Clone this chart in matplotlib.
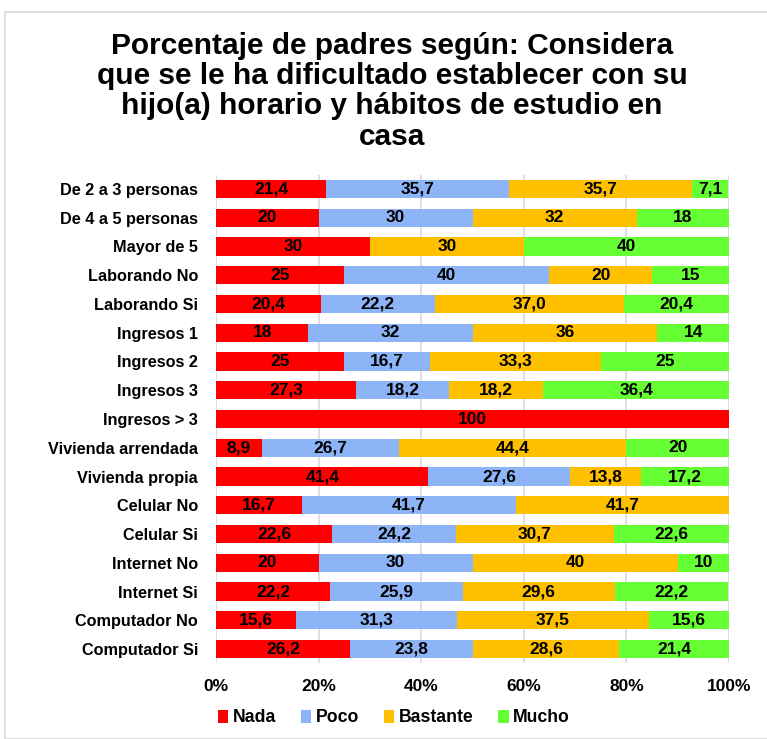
import matplotlib
matplotlib.use("Agg")
import matplotlib.pyplot as plt
from matplotlib.patches import Rectangle
import numpy as np

plt.rcParams['font.family'] = ['Liberation Sans', 'DejaVu Sans']

categories = ["De 2 a 3 personas", "De 4 a 5 personas", "Mayor de 5", "Laborando No",
              "Laborando Si", "Ingresos 1", "Ingresos 2", "Ingresos 3", "Ingresos > 3",
              "Vivienda arrendada", "Vivienda propia", "Celular No", "Celular Si",
              "Internet No", "Internet Si", "Computador No", "Computador Si"]
series_names = ["Nada", "Poco", "Bastante", "Mucho"]
nada = [21.4, 20, 30, 25, 20.4, 18, 25, 27.3, 100, 8.9, 41.4, 16.7, 22.6, 20, 22.2, 15.6, 26.2]
poco = [35.7, 30, 0, 40, 22.2, 32, 16.7, 18.2, 0, 26.7, 27.6, 41.7, 24.2, 30, 25.9, 31.3, 23.8]
bastante = [35.7, 32, 30, 20, 37.0, 36, 33.3, 18.2, 0, 44.4, 13.8, 41.7, 30.7, 40, 29.6, 37.5, 28.6]
mucho = [7.1, 18, 40, 15, 20.4, 14, 25, 36.4, 0, 20, 17.2, 0, 22.6, 10, 22.2, 15.6, 21.4]
# number of decimals shown in the data labels, per row
decimals = [1, 0, 0, 0, 1, 0, 1, 1, 0, 1, 1, 1, 1, 0, 1, 1, 1]
xticks = [0, 20, 40, 60, 80, 100]
title = "Porcentaje de padres según: Considera\nque se le ha dificultado establecer con su\nhijo(a) horario y hábitos de estudio en\ncasa"

colors = ["#FF0000", "#8EB4F8", "#FFC000", "#66FF33"]

fig = plt.figure(figsize=(7.67, 7.39), dpi=100)
fig.patches.append(Rectangle((5/767, 0), 1, 1 - 12/739, transform=fig.transFigure,
                             fill=False, edgecolor="#D9D9D9", linewidth=1.2))
ax = fig.add_axes([216/767, 1 - 663.4/739, (729 - 216)/767, (663.4 - 174.6)/739])

data = np.array([nada, poco, bastante, mucho])
y = np.arange(len(categories))
left = np.zeros(len(categories))
for i, name in enumerate(series_names):
    vals = data[i]
    ax.barh(y, vals, left=left, height=0.63, color=colors[i], label=name, zorder=2)
    for j, v in enumerate(vals):
        if v > 0:
            txt = f"{v:.{decimals[j]}f}".replace(".", ",")
            if decimals[j] == 1 and float(v).is_integer() and v != 37.0:
                txt = f"{int(v)}"
            ax.text(left[j] + v / 2, y[j], txt, ha="center", va="center",
                    fontsize=12.5, fontweight="bold", color="black", zorder=3)
    left += vals

ax.set_xlim(0, 100)
ax.set_ylim(len(categories) - 0.5, -0.5)
ax.set_yticks(y)
ax.set_yticklabels(categories, fontsize=11.7, fontweight="bold")
ax.set_xticks(xticks)
ax.set_xticklabels([f"{t}%" for t in xticks], fontsize=12.5, fontweight="bold")
ax.tick_params(axis="both", length=0)
ax.tick_params(axis="y", pad=13)
ax.tick_params(axis="x", pad=11)
for s in ax.spines.values():
    s.set_visible(False)
ax.grid(axis="x", color="#D9D9D9", linewidth=1.2, zorder=0)
ax.set_axisbelow(True)

fig.text(392/767, 1 - 32/739, title, ha="center", va="top", fontsize=21.5,
         fontweight="bold", linespacing=1.1)

leg = fig.legend(loc="center", bbox_to_anchor=(394/767, 1 - 718/739), ncol=4,
                 frameon=False, prop={"size": 12.7, "weight": "bold"},
                 handlelength=0.6, handleheight=0.8, handletextpad=0.25, columnspacing=1.4)

fig.savefig("out.png", dpi=100)
